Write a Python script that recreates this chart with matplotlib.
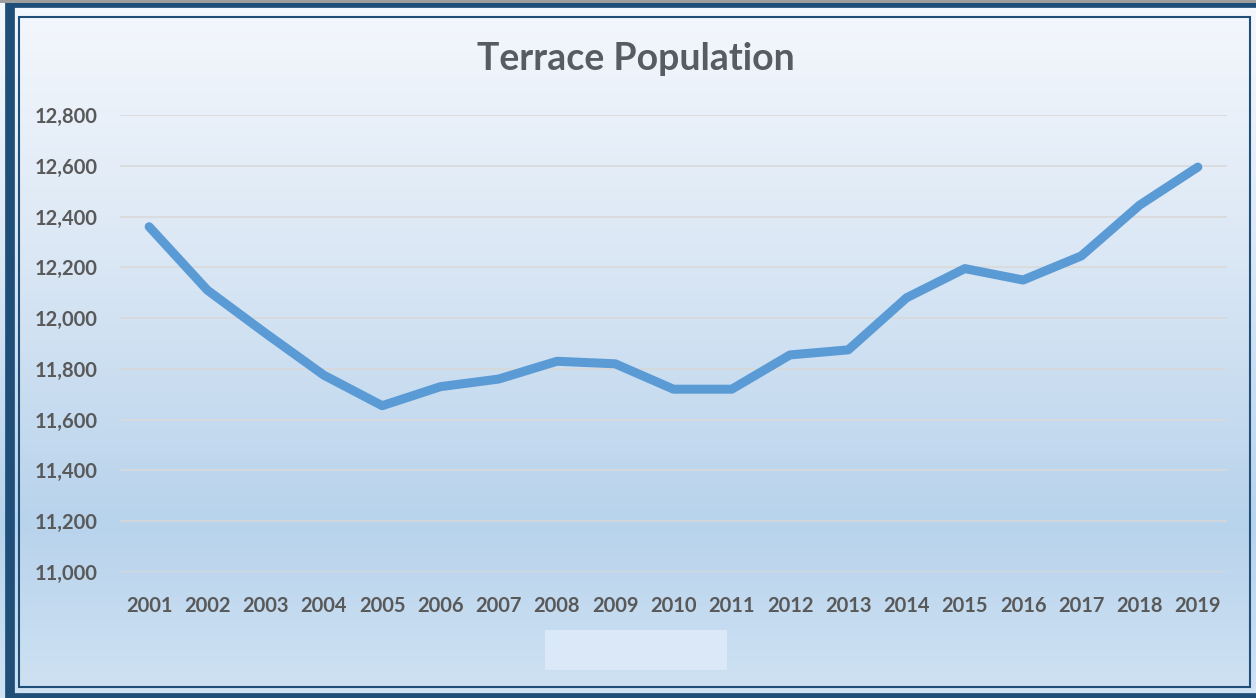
import numpy as np
import matplotlib.pyplot as plt
from matplotlib.patches import Rectangle
from matplotlib.colors import LinearSegmentedColormap
from matplotlib.ticker import FuncFormatter

# Terrace population by year
years = ["2001", "2002", "2003", "2004", "2005", "2006", "2007", "2008",
         "2009", "2010", "2011", "2012", "2013", "2014", "2015", "2016",
         "2017", "2018", "2019"]
population = [12360, 12110, 11940, 11775, 11655, 11730, 11760, 11830,
              11820, 11720, 11720, 11855, 11875, 12080, 12195, 12150,
              12245, 12445, 12595]
y_ticks = [11000, 11200, 11400, 11600, 11800, 12000, 12200, 12400,
           12600, 12800]

W, H = 1256, 698
fig = plt.figure(figsize=(W / 100, H / 100), dpi=100)
plt.rcParams["font.family"] = ["Lato", "DejaVu Sans"]

# background gradient behind everything
bg = fig.add_axes([0, 0, 1, 1], zorder=-10)
bg.set_axis_off()
cmap = LinearSegmentedColormap.from_list(
    "bg", [(0.0, "#F5F8FD"), (0.35, "#DCE8F5"), (0.75, "#B8D3EC"),
           (1.0, "#CFE2F3")])
grad = np.linspace(0, 1, 256).reshape(-1, 1)
bg.imshow(grad, aspect="auto", cmap=cmap, extent=[0, 1, 0, 1],
          origin="upper")
bg.set_xlim(0, 1)
bg.set_ylim(0, 1)

# frame: thick navy outer, thin light gap, thin navy inner
navy = "#1F4E79"
fig.patches.append(Rectangle((10 / W, 0), 1 - 6 / W, 1 - 3 / H,
                             transform=fig.transFigure, fc="none",
                             ec=navy, lw=7, zorder=5))
fig.patches.append(Rectangle((19 / W, 11 / H), 1 - 25 / W, 1 - 28 / H,
                             transform=fig.transFigure, fc="none",
                             ec=navy, lw=1.5, zorder=5))
fig.patches.append(Rectangle((0, 1 - 3 / H), 1, 3 / H,
                             transform=fig.transFigure, fc="#9E9E9E",
                             ec="none", zorder=6))

# blank legend box
fig.patches.append(Rectangle((545 / W, 1 - 670 / H), 182 / W, 40 / H,
                             transform=fig.transFigure, fc="#DAE8F7",
                             ec="none", zorder=1))

ax = fig.add_axes([120 / W, 1 - 572 / H, 1107 / W, 457 / H])
ax.patch.set_alpha(0)
x = np.arange(len(years))
ax.plot(x, population, color="#5B9BD5", lw=6.5, solid_capstyle="round",
        solid_joinstyle="round", zorder=3)
ax.set_xlim(-0.5, len(years) - 0.5)
ax.set_ylim(11000, 12800)
ax.set_yticks(y_ticks)
ax.yaxis.set_major_formatter(FuncFormatter(lambda v, p: f"{v:,.0f}"))
ax.set_xticks(x)
ax.set_xticklabels(years)
ax.grid(axis="y", color="#D9D9D9", lw=1.2)
ax.set_axisbelow(True)
for s in ax.spines.values():
    s.set_visible(False)
ax.tick_params(length=0, labelsize=14.5, labelcolor="#595959")
ax.tick_params(axis="x", pad=17)
ax.tick_params(axis="y", pad=16)
for lab in ax.get_xticklabels() + ax.get_yticklabels():
    lab.set_fontweight("bold")

fig.text(636 / W, 1 - 59 / H, "Terrace Population", ha="center",
         va="center", fontsize=27, fontweight="bold", color="#575C63")

fig.savefig("out.png", dpi=100)
